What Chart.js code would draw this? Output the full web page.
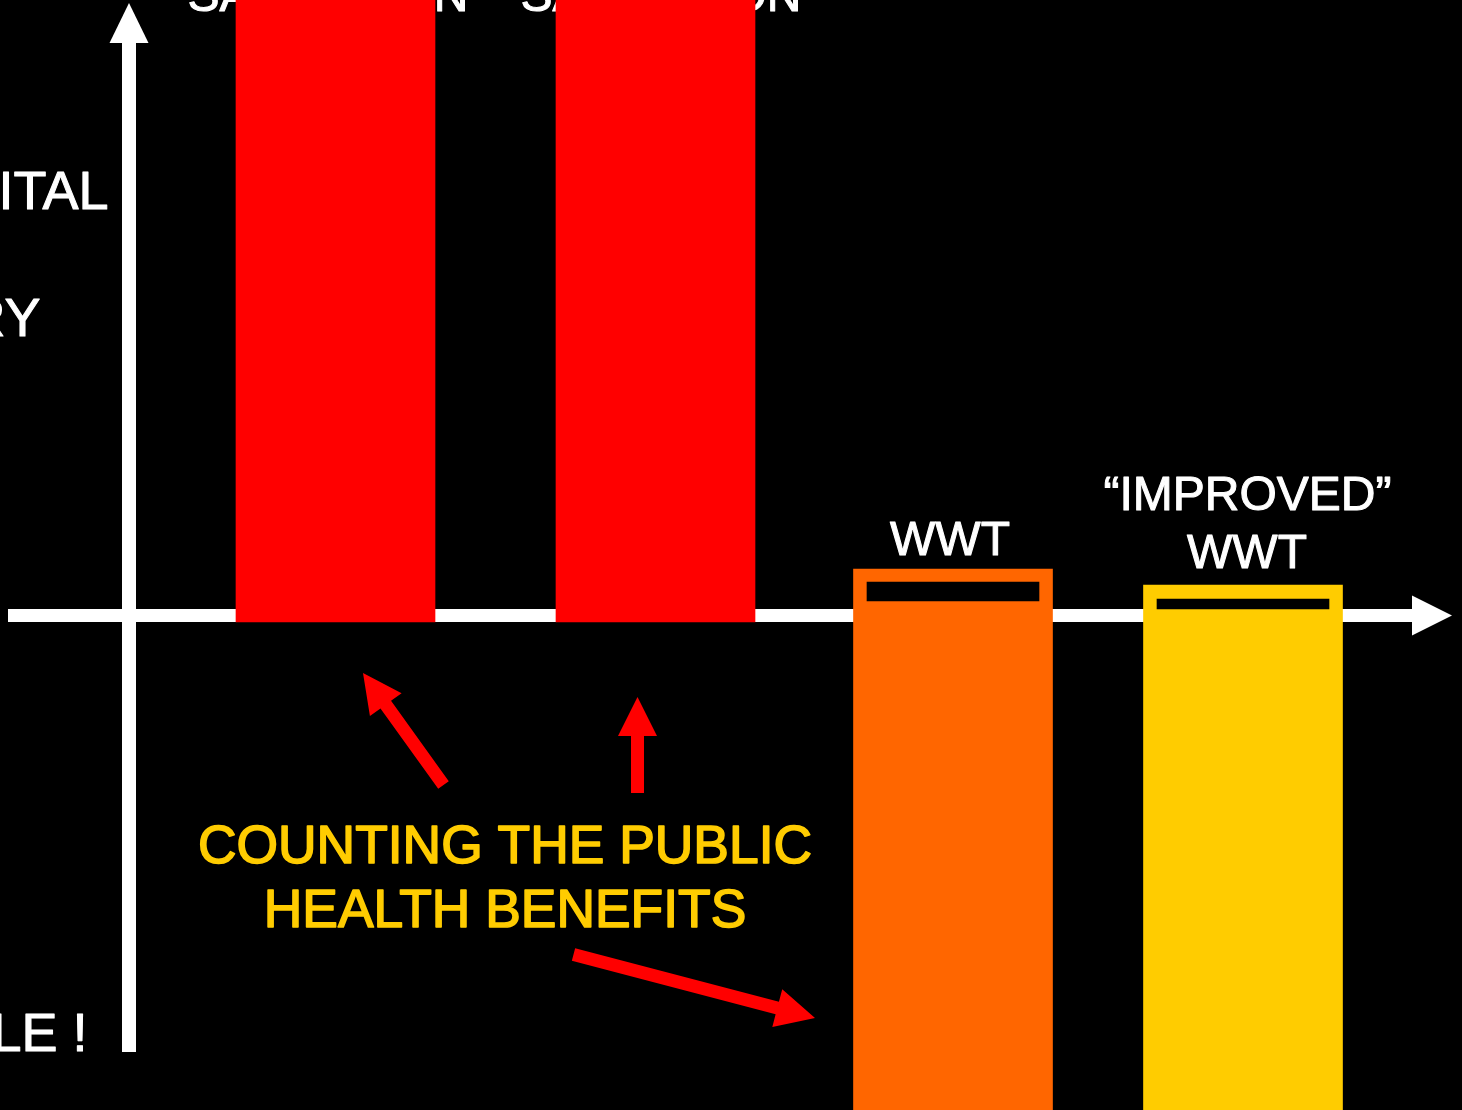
<!DOCTYPE html>
<html>
<head>
<meta charset="utf-8">
<title>Sanitation vs WWT</title>
<script src="https://cdn.jsdelivr.net/npm/chart.js"></script>
<style>
    html, body { margin: 0; padding: 0; background: #000; }
    #wrap { width: 1462px; height: 1110px; position: relative; }
</style>
</head>
<body>
<div id="wrap"><canvas id="chart"></canvas></div>
<script>
// Bars: categories, x position on the axis, floating range [low, high]
const categories = ['SANITATION', 'SANITATION', 'WWT', '“IMPROVED” WWT'];
const barX = [335.5, 655.5, 953, 1243];
const barLow = [-6.5, -6.5, -520, -520];
const barHigh = [700, 700, 46.5, 30.5];

// Black band inside the two WWT bars
const innerLow = [null, null, 14.5, 6.5];
const innerHigh = [null, null, 33.5, 16.5];

const barColors = ['#ff0000', '#ff0000', '#ff6600', '#ffcc00'];

// Scale limits (axis crosses at 0)
const X_MIN = 0, X_MAX = 1462;
const Y_MIN = -494.5, Y_MAX = 615.5;

const FONT = '"Liberation Sans", Arial, sans-serif';

// Annotations drawn by the plugin, in scale units
const arrows = [
    { from: [443.5, -169.5], to: [363, -57.5] },
    { from: [637.5, -177.5], to: [637.5, -81.5] },
    { from: [573.5, -339], to: [815, -402.5] }
];

function drawArrow(ctx, x1, y1, x2, y2, shaft, headW, headL) {
    const ang = Math.atan2(y2 - y1, x2 - x1);
    const len = Math.hypot(x2 - x1, y2 - y1);
    ctx.save();
    ctx.translate(x1, y1);
    ctx.rotate(ang);
    ctx.beginPath();
    ctx.moveTo(0, -shaft / 2);
    ctx.lineTo(len - headL, -shaft / 2);
    ctx.lineTo(len - headL, -headW / 2);
    ctx.lineTo(len, 0);
    ctx.lineTo(len - headL, headW / 2);
    ctx.lineTo(len - headL, shaft / 2);
    ctx.lineTo(0, shaft / 2);
    ctx.closePath();
    ctx.fill();
    ctx.restore();
}

// filled text with a thin outline so the weight matches the slide
function heavyText(ctx, text, x, y, weight) {
    ctx.lineWidth = weight;
    ctx.lineJoin = 'round';
    ctx.strokeStyle = ctx.fillStyle;
    ctx.fillText(text, x, y);
    ctx.strokeText(text, x, y);
}

const slidePlugin = {
    id: 'slide',
    beforeDatasetsDraw(chart) {
        const ctx = chart.ctx;
        const xs = chart.scales.x, ys = chart.scales.y;
        const y0 = ys.getPixelForValue(0);
        const xAxis = xs.getPixelForValue(129);

        ctx.save();
        ctx.fillStyle = '#fff';

        // horizontal axis with arrow
        ctx.fillRect(8, y0 - 6.5, 1404, 13);
        ctx.beginPath();
        ctx.moveTo(1412, y0 - 20);
        ctx.lineTo(1452, y0);
        ctx.lineTo(1412, y0 + 20);
        ctx.closePath();
        ctx.fill();

        // vertical axis with arrow
        ctx.fillRect(xAxis - 7, 43, 14, 1009);
        ctx.beginPath();
        ctx.moveTo(xAxis - 19.5, 43);
        ctx.lineTo(xAxis, 3);
        ctx.lineTo(xAxis + 19.5, 43);
        ctx.closePath();
        ctx.fill();

        // labels sitting behind the red bars
        ctx.font = '48px ' + FONT;
        ctx.textAlign = 'center';
        ctx.textBaseline = 'alphabetic';
        heavyText(ctx, categories[0], 328, 11, 1);
        heavyText(ctx, categories[1], 661, 11, 1);

        // y-axis side texts (cut by the frame edge)
        ctx.font = '54px ' + FONT;
        ctx.textAlign = 'right';
        heavyText(ctx, 'CAPITAL', 108.5, 209, 1);
        heavyText(ctx, 'PRIMARY', 40.5, 336, 1);
        heavyText(ctx, 'NEGLIGIBLE !', 87.5, 1051, 1);
        ctx.restore();
    },
    afterDatasetsDraw(chart) {
        const ctx = chart.ctx;
        const xs = chart.scales.x, ys = chart.scales.y;

        ctx.save();
        ctx.fillStyle = '#fff';
        ctx.font = '48px ' + FONT;
        ctx.textAlign = 'center';
        ctx.textBaseline = 'alphabetic';
        heavyText(ctx, categories[2], 950, 555, 1);
        const parts = categories[3].split(' ');
        heavyText(ctx, parts[0], 1247.5, 510, 1);
        heavyText(ctx, parts[1], 1247, 568, 1);

        ctx.fillStyle = '#ffcc00';
        ctx.font = '53.4px ' + FONT;
        heavyText(ctx, 'COUNTING THE PUBLIC', 505, 863, 1.6);
        heavyText(ctx, 'HEALTH BENEFITS', 505, 927, 1.6);

        ctx.fillStyle = '#ff0000';
        arrows.forEach(a => {
            drawArrow(ctx,
                xs.getPixelForValue(a.from[0]), ys.getPixelForValue(a.from[1]),
                xs.getPixelForValue(a.to[0]), ys.getPixelForValue(a.to[1]),
                13, 39, 39);
        });
        ctx.restore();
    }
};

new Chart(document.getElementById('chart'), {
    type: 'bar',
    data: {
        datasets: [
            {
                label: 'inner',
                data: barX.map((x, i) => ({ x, y: innerLow[i] === null ? null : [innerLow[i], innerHigh[i]] })),
                backgroundColor: '#000',
                barThickness: 172,
                grouped: false
            },
            {
                label: 'bars',
                data: barX.map((x, i) => ({ x, y: [barLow[i], barHigh[i]] })),
                backgroundColor: barColors,
                barThickness: 199,
                grouped: false
            }
        ]
    },
    options: {
        responsive: true,
        maintainAspectRatio: false,
        animation: false,
        layout: { padding: 0 },
        plugins: {
            legend: { display: false },
            tooltip: { enabled: false }
        },
        scales: {
            x: { type: 'linear', min: X_MIN, max: X_MAX, offset: false, display: false },
            y: { type: 'linear', min: Y_MIN, max: Y_MAX, display: false }
        }
    },
    plugins: [slidePlugin]
});
</script>
</body>
</html>
